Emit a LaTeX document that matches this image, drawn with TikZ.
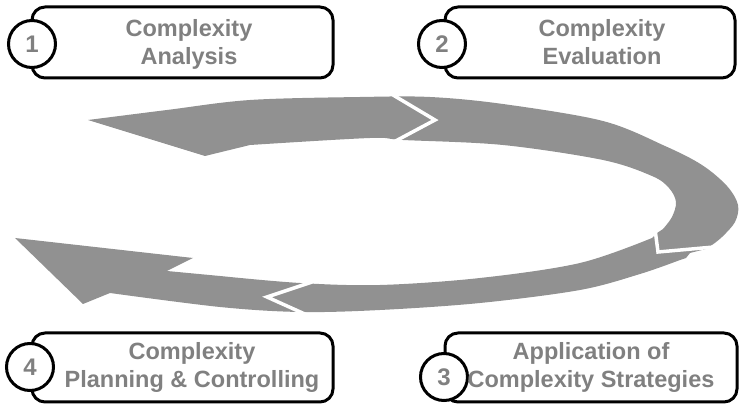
\documentclass[tikz,border=0pt]{standalone}
\usepackage{fontspec}
\setmainfont{Liberation Sans}
\definecolor{band}{RGB}{145,145,145}
\definecolor{txt}{RGB}{128,128,128}
\begin{document}
\begin{tikzpicture}[x=1pt,y=-1pt,
  stepbox/.style={draw=black, line width=3pt, rounded corners=13pt, fill=white, rectangle, inner sep=0pt},
  numcirc/.style={circle, draw=black, line width=3pt, fill=white, minimum size=47pt, inner sep=0pt, font=\bfseries\fontsize{24}{28}\selectfont, text=txt},
  steptext/.style={align=center, font=\bfseries\fontsize{23.5}{28}\selectfont, text=txt, inner sep=0pt},
  gap/.style={draw=white, line width=3.5pt, line join=miter}]
\useasboundingbox (0,0) rectangle (740,406);

% cycle band
\fill[band] plot[smooth, tension=0.55] coordinates {(88,120) (167,110) (250,100) (360,97) (430,97) (503,104) (603,121) (665,146) (702,165) (727,186) (738,205) (735,222) (722,237) (712,245)}
 -- (706,249) -- (690,253) -- (686,258)
 -- plot[smooth, tension=0.55] coordinates {(680,260) (640,274) (580,290) (480,303) (380,310) (300,312) (220,307) (110,293)}
 -- (83,304) -- (15,238) -- (193,258) -- (167,271)
 -- plot[smooth, tension=0.55] coordinates {(220,276) (300,283) (380,285) (480,278) (580,263) (652,238)}
 -- (657,233)
 -- plot[smooth, tension=0.55] coordinates {(663,229) (672,217) (676,202) (669,188) (652,176) (603,160) (503,145) (403,140) (370,138) (250,145)}
 -- (205,156) -- cycle;
\draw[gap] (393,95) -- (435,120) -- (390,144);
\draw[gap] (655,229) -- (658,252) -- (714,247);
\draw[gap] (312,282) -- (267,297) -- (307,315);

% boxes
\node[stepbox, minimum width=301pt, minimum height=71pt] (b1) at (182.5,42.5) {};
\node[stepbox, minimum width=290pt, minimum height=71pt] (b2) at (590,42.5) {};
\node[stepbox, minimum width=301pt, minimum height=69pt] (b4) at (182.5,367.5) {};
\node[stepbox, minimum width=292pt, minimum height=69pt] (b3) at (591,367.5) {};

\node[numcirc] (c1) at (32,44) {1};
\node[numcirc] (c2) at (442,44) {2};
\node[numcirc] (c4) at (30,367) {4};
\node[numcirc] (c3) at (444,377) {3};

\node[steptext, anchor=base] (t1) at (189,65) {Complexity\\Analysis};
\node[steptext, anchor=base] (t2) at (602,65) {Complexity\\Evaluation};
\node[steptext, anchor=base] (t4) at (192,388) {Complexity\\Planning \& Controlling};
\node[steptext, anchor=base] (t3) at (591,388) {Application of\\Complexity Strategies};
\end{tikzpicture}
\end{document}
